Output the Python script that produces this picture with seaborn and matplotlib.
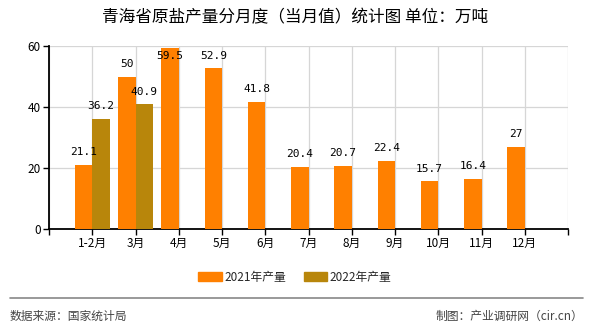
import matplotlib
matplotlib.use("Agg")
import matplotlib.pyplot as plt
import seaborn as sns
import pandas as pd
import numpy as np
from matplotlib.lines import Line2D

months = ["1-2月", "3月", "4月", "5月", "6月", "7月", "8月", "9月", "10月", "11月", "12月"]
output_2021 = [21.1, 50, 59.5, 52.9, 41.8, 20.4, 20.7, 22.4, 15.7, 16.4, 27]
output_2022 = [36.2, 40.9, None, None, None, None, None, None, None, None, None]
series_names = ["2021年产量", "2022年产量"]
colors = ["#FF8000", "#B8860B"]
yticks = [0, 20, 40, 60]

sns.set_theme(style="white")
plt.rcParams["font.family"] = ["Noto Sans CJK SC", "DejaVu Sans"]

rows = []
for m, a, b in zip(months, output_2021, output_2022):
    rows.append({"month": m, "series": series_names[0], "value": a})
    rows.append({"month": m, "series": series_names[1], "value": b})
df = pd.DataFrame(rows)
df["value"] = pd.to_numeric(df["value"])

fig = plt.figure(figsize=(5.9, 3.3), dpi=100)
ax = fig.add_axes([49 / 590, 1 - 229 / 330, (568 - 49) / 590, (229 - 46) / 330])

sns.barplot(data=df.dropna(), x="month", y="value", hue="series", order=months,
            hue_order=series_names, palette=colors, width=0.8, dodge=True,
            saturation=1, errorbar=None, ax=ax, legend=False, zorder=3,
            linewidth=0, edgecolor="none")

ax.set_xlim(-1, len(months))
ax.set_ylim(0, 60)
ax.set_yticks(yticks)
ax.set_yticklabels([str(v) for v in yticks], fontsize=8.5)
xt = list(range(-1, len(months) + 1))
ax.set_xticks(xt)
ax.set_xticklabels([""] + months + [""], fontsize=8.5)
ax.set_xlabel("")
ax.set_ylabel("")

ax.grid(True, color="#d6d6d6", linewidth=0.9, zorder=0)
ax.set_axisbelow(True)
for side in ["top", "right"]:
    ax.spines[side].set_visible(False)
for side in ["left", "bottom"]:
    ax.spines[side].set_color("black")
    ax.spines[side].set_linewidth(1.3)
ax.tick_params(axis="both", which="both", length=4, width=1, color="black",
               direction="out", left=True, bottom=True, pad=2, labelcolor="black")

# value labels over each bar, kept inside the plotting area
for container in ax.containers:
    for bar in container:
        h = bar.get_height()
        if h is None or np.isnan(h) or h == 0:
            continue
        y = min(h + 4.1, 56.7)
        ax.text(bar.get_x() + bar.get_width() / 2, y, f"{h:g}",
                ha="center", va="center", fontsize=8,
                family="DejaVu Sans Mono", color="black", zorder=5)

fig.suptitle("青海省原盐产量分月度（当月值）统计图 单位：万吨", x=0.5, y=1 - 18 / 330,
             va="center", fontsize=12, color="black")

handles = [plt.Rectangle((0, 0), 1, 1, color=c) for c in colors]
fig.legend(handles, series_names, loc="center", bbox_to_anchor=(0.5, 1 - 277 / 330),
           ncol=2, frameon=False, fontsize=8.5, handlelength=2.0, handleheight=0.8,
           handletextpad=0.2, columnspacing=1.5)

fig.add_artist(Line2D([10 / 590, 583 / 590], [1 - 298 / 330, 1 - 298 / 330],
                      color="#888888", linewidth=1.2, transform=fig.transFigure))
fig.text(10 / 590, 1 - 316 / 330, "数据来源：国家统计局", ha="left", va="center",
         fontsize=8.5, color="#444444")
fig.text(583 / 590, 1 - 316 / 330, "制图：产业调研网（cir.cn）", ha="right", va="center",
         fontsize=8.5, color="#444444")

fig.savefig("out.png", dpi=100)
